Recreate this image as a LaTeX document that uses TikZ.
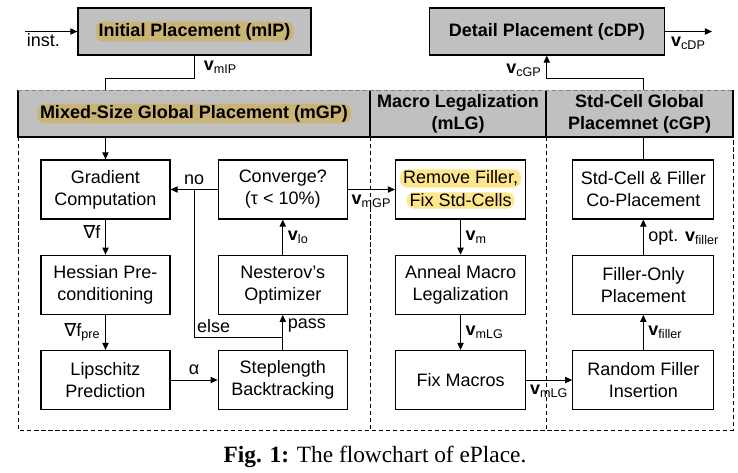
\documentclass[tikz,border=0pt]{standalone}
\usepackage{fontspec}
\setmainfont{Liberation Sans}
\newfontfamily\capfont{Liberation Serif}
\newfontfamily\symfont{DejaVu Sans}
\usepackage{tikz}
\usetikzlibrary{arrows.meta}
\usetikzlibrary{positioning}

\definecolor{hdgray}{RGB}{192,192,192}
\definecolor{hlgold}{RGB}{201,180,118}
\definecolor{hlyel}{RGB}{255,230,140}

\newcommand{\figfont}{\fontsize{12.8}{15.6}\selectfont}
\newcommand{\vsub}[1]{\textbf{v}\textsubscript{#1}}

\tikzset{
    flow/.style={
      rectangle,
           draw=black, line width=0.9pt,
           inner sep=2pt,
           text centered, align=center,
           minimum width=3.225cm,
           minimum height=1.475cm,
           },
}
\tikzset{
    topbox/.style={
      rectangle,
           draw=black, line width=0.9pt, fill=hdgray,
           inner sep=2pt,
           text centered, font=\figfont\bfseries,
           minimum height=1.175cm,
           },
}
\tikzset{
    headbox/.style={
      rectangle,
           fill=hdgray, outer sep=0pt,
           inner sep=2pt,
           text centered, align=center, font=\figfont\bfseries,
           minimum height=1.175cm,
           },
}
\tikzset{
    hlmark/.style={
      rectangle, rounded corners=5pt,
           fill=hlgold, font=\figfont\bfseries,
           inner xsep=2pt, inner ysep=1pt,
           },
}
\tikzset{
    hlyellow/.style={
      rectangle, rounded corners=5pt,
           fill=hlyel, font=\figfont,
           inner xsep=2pt, inner ysep=1pt,
           },
}

\begin{document}
\begin{tikzpicture}[>={Triangle[length=5pt,width=4.5pt]}, line width=0.7pt,
    font=\figfont]

\useasboundingbox (0,0) rectangle (18.45,-11.8);

% top row
\node[topbox,minimum width=5.825cm,label={[hlmark]center:Initial Placement (mIP)}] (mip) at (4.8625,-0.7875) {};
\node[topbox,minimum width=5.875cm,right = 2.925cm of mip] (cdp) {Detail Placement (cDP)};

\coordinate (inst) at (0.625,-0.7875);
\coordinate[right = 1.175cm of cdp.east] (out);

% column headers
\node[headbox,minimum width=8.8cm,label={[hlmark]center:Mixed-Size Global Placement (mGP)}] (hmgp) at (4.85,-2.8375) {};
\node[headbox,minimum width=4.4cm,right = 0cm of hmgp] (hmlg) {Macro Legalization\\(mLG)};
\node[headbox,minimum width=4.675cm,right = 0cm of hmlg] (hcgp) {Std-Cell Global\\Placemnet (cGP)};

\coordinate (bot) at (0,-10.75);

\draw[line width=0.9pt] (hmgp.north west) -- (hmgp.south west) -- (hcgp.south east) -- (hcgp.north east);
\draw[line width=0.9pt] (hmlg.north west) -- (hmlg.south west);
\draw[line width=0.9pt] (hcgp.north west) -- (hcgp.south west);
\draw[densely dashed,gray] (hmgp.north west) -- (hcgp.north east);

% dashed columns
\draw[densely dashed] (hmgp.south west) -- (hmgp.south west |- bot) -- (hcgp.south east |- bot) -- (hcgp.south east);
\draw[densely dashed] (hmlg.south west) -- (hmlg.south west |- bot);
\draw[densely dashed] (hcgp.south west) -- (hcgp.south west |- bot);

% mGP
\node[flow] (grad) at (2.6375,-4.7375) {Gradient\\Computation};
\node[flow,below = 0.875cm of grad] (hess) {Hessian Pre-\\conditioning};
\node[flow,below = 0.875cm of hess] (lip) {Lipschitz\\Prediction};

\node[flow,right = 1.175cm of grad] (conv) {Converge?\\(τ < 10\%)};
\node[flow,below = 0.875cm of conv] (nest) {Nesterov’s\\Optimizer};
\node[flow,below = 0.875cm of nest] (step) {Steplength\\Backtracking};

% mLG
\node[flow,minimum width=3.25cm,right = 1.175cm of conv,
      label={[hlyellow,yshift=0.275cm]center:{Remove Filler,}},
      label={[hlyellow,yshift=-0.275cm]center:{Fix Std-Cells}}] (rmf) {};
\node[flow,minimum width=3.25cm,below = 0.875cm of rmf] (anm) {Anneal Macro\\Legalization};
\node[flow,minimum width=3.25cm,below = 0.875cm of anm] (fxm) {Fix Macros};

% cGP
\node[flow,minimum width=3.525cm,right = 1.15cm of rmf] (sfc) {Std-Cell \& Filler\\Co-Placement};
\node[flow,minimum width=3.525cm,below = 0.875cm of sfc] (fop) {Filler-Only\\Placement};
\node[flow,minimum width=3.525cm,below = 0.875cm of fop] (rfi) {Random Filler\\Insertion};

\coordinate[above = 0.3cm of step.north] (split);
\coordinate[right = 0.5875cm of grad.east] (join);

% connectors
\draw[->] (inst) -- (mip) node[pos=0,below right,inner sep=1pt] {inst.};
\draw (mip.south) -- ++(0,-0.575) node[midway,right,xshift=3pt] {\vsub{mIP}} -| (grad |- hmgp.north);
\draw[->] (grad |- hmgp.south) -- (grad);

\draw[->] (grad) -- node[left,pos=0.35] {{\symfont ∇}f} (hess);
\draw[->] (hess) -- node[left] {{\symfont ∇}f\textsubscript{pre}} (lip);
\draw[->] (lip) -- node[above] {α} (step);
\draw[->] (step) -- node[right,pos=0.69] {pass} (nest);
\draw[->] (nest) -- node[right] {\vsub{lo}} (conv);
\draw[->] (conv) -- node[above] {no} (grad);
\draw (split) -| node[pos=0.39,above] {else} (join);

\draw[->] (conv) -- node[below] {\vsub{mGP}} (rmf);
\draw[->] (rmf) -- node[right] {\vsub{m}} (anm);
\draw[->] (anm) -- node[right] {\vsub{mLG}} (fxm);
\draw[->] (fxm) -- node[below] {\vsub{mLG}} (rfi);

\draw[->] (rfi) -- node[right] {\vsub{filler}} (fop);
\draw[->] (fop) -- node[right] {opt. \vsub{filler}} (sfc);
\draw (sfc) -- (sfc |- hcgp.south);
\draw[->] (sfc |- hcgp.north) |- ([yshift=-0.575cm]cdp.south) -- node[pos=0.35,left] {\vsub{cGP}} (cdp.south);

\draw[->] (cdp) -- node[below] {\vsub{cDP}} (out);

% caption
\node[font=\capfont\fontsize{16.6}{19}\selectfont] (cap) at (9.375,-11.425) {\textbf{Fig. 1:} The flowchart of ePlace.};

\end{tikzpicture}
\end{document}
